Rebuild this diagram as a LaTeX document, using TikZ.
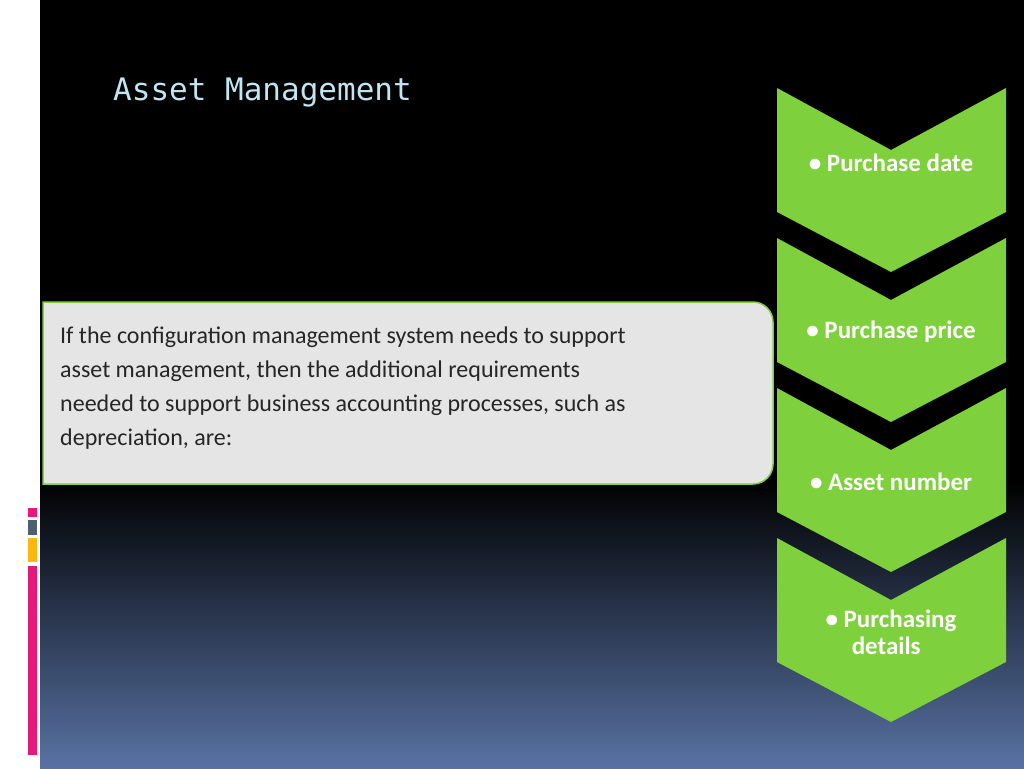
\documentclass[tikz,border=0pt]{standalone}
\usepackage{fontspec}
\setmainfont{Carlito}
\newfontfamily\titlefont{DejaVu Sans Mono}
\begin{document}
\begin{tikzpicture}[x=1pt,y=-1pt,
  chev/.style={fill=chevgreen},
  chevtext/.style={text=white,font=\bfseries\fontsize{25}{31}\selectfont,align=left}]
\definecolor{chevgreen}{HTML}{7ED03C}
\definecolor{boxgreen}{HTML}{7ED03C}
\definecolor{bottomblue}{HTML}{5872A3}
\definecolor{titleblue}{HTML}{BFE6F2}
\definecolor{barpink}{HTML}{E5197A}
\definecolor{bargray}{HTML}{4F5F6E}
\definecolor{baryellow}{HTML}{F9B70F}
\useasboundingbox (0,0) rectangle (1024,768);
\fill[white] (0,0) rectangle (40,768);
\fill[black] (40,0) rectangle (1024,481);
\shade[top color=black,bottom color=bottomblue] (40,480) rectangle (1024,768);
% left bars
\fill[barpink] (28,508) rectangle (37,517);
\fill[bargray] (28,520) rectangle (37,535);
\fill[baryellow] (28,538) rectangle (37,562);
\fill[barpink] (28,566) rectangle (37,755);
% title
\node[anchor=base west,text=titleblue,font=\titlefont\fontsize{31}{36}\selectfont,inner sep=0] (title) at (113,100) {Asset Management};
% chevrons
\foreach \i/\t in {0/a,1/b,2/c,3/d}{
  \fill[chev] (777,88+150*\i) -- (891,150+150*\i) -- (1006,88+150*\i) -- (1006,212+150*\i) -- (891,272+150*\i) -- (777,212+150*\i) -- cycle;
}
\node[chevtext] (c1) at (891,163) {• Purchase date};
\node[chevtext] (c2) at (891,332) {• Purchase price};
\node[chevtext] (c3) at (891,482) {• Asset number};
\node[chevtext] (c4) at (891,632) {• Purchasing\\[-4pt]\hspace*{1.05em}details};
% box
\draw[boxgreen,line width=1.5pt,fill=black!10] (43,302) -- (753,302) arc[start angle=-90,end angle=0,radius=20] -- (773,464) arc[start angle=0,end angle=90,radius=20] -- (43,484) -- cycle;
\node[anchor=north west,align=left,inner sep=0,text=black!85,font=\fontsize{24}{34}\selectfont] (txt) at (60,327) {If the configuration management system needs to support\\asset management, then the additional requirements\\needed to support business accounting processes, such as\\depreciation, are:};
\end{tikzpicture}
\end{document}
